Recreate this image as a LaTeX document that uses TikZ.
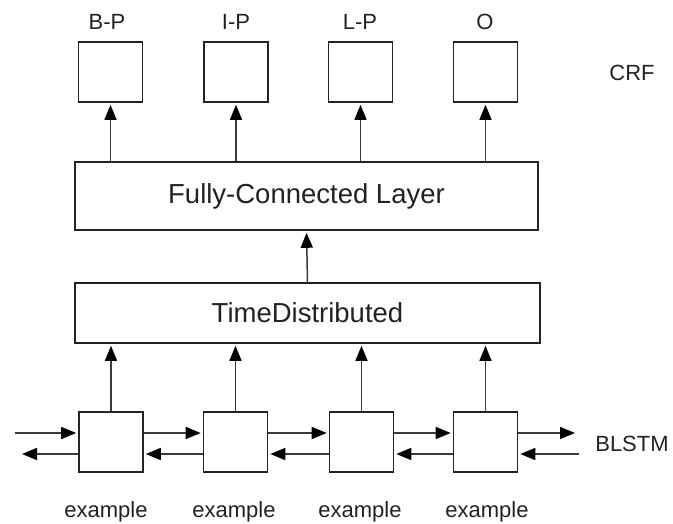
\documentclass[tikz,border=0pt]{standalone}
\usepackage{fontspec}
\setmainfont{Liberation Sans}
\usetikzlibrary{arrows.meta,positioning}
\definecolor{ink}{HTML}{222222}
\definecolor{shaft}{HTML}{3A3A3A}
\tikzset{
  cell/.style={draw=ink, line width=1.6pt, fill=white, inner sep=0pt,
    minimum width=64pt, minimum height=60pt},
  layer/.style={draw=ink, line width=1.6pt, fill=white, inner sep=0pt,
    text=ink, font=\fontsize{27.5}{32}\selectfont},
  lbl/.style={text=ink, inner sep=0pt, font=\fontsize{22}{26}\selectfont},
  arr/.style={draw=shaft, line width=1.5pt,
    -{Triangle[length=15pt,width=12pt,color=black]}, shorten >=2pt},
}
\begin{document}
\begin{tikzpicture}[x=1pt,y=-1pt]
\useasboundingbox (0,0) rectangle (673,524);

% CRF output cells and their tags
\node[cell] (o1) at (110.5,72) {};
\node[cell] (o2) at (236,72) {};
\node[cell] (o3) at (360.5,72) {};
\node[cell] (o4) at (485.5,72) {};
\node[lbl] (t1) at (107,22) {B-P};
\node[lbl] (t2) at (236,22) {I-P};
\node[lbl] (t3) at (360,22) {L-P};
\node[lbl] (t4) at (485,22) {O};
\node[lbl] (crf) at (632,73) {CRF};

% dense and time-distributed layers
\node[layer, minimum width=463pt, minimum height=68pt] (fc) at (306.5,196) {Fully-Connected Layer};
\node[layer, minimum width=465pt, minimum height=60pt] (td) at (307.5,313) {TimeDistributed};

% BLSTM cells and inputs
\node[cell] (c1) at (111,442) {};
\node[cell] (c2) at (235.5,442) {};
\node[cell] (c3) at (361.5,442) {};
\node[cell] (c4) at (485.5,442) {};
\node[lbl] (e1) at (106,512) {example};
\node[lbl] (e2) at (234,512) {example};
\node[lbl] (e3) at (360,512) {example};
\node[lbl] (e4) at (487,512) {example};
\node[lbl] (blstm) at (632,444) {BLSTM};

% free ends of the recurrent connections
\coordinate (inL) at (15,433);
\coordinate (outL) at (20,454);
\coordinate (outR) at (577,433);
\coordinate (inR) at (579,454);

% upward connections
\foreach \i in {1,...,4} {
  \draw[arr] (fc.north -| o\i.south) -- (o\i.south);
  \draw[arr] (c\i.north) -- (td.south -| c\i.north);
}
\draw[arr] (td.north) -- (fc.south);

% forward (upper) and backward (lower) recurrences
\draw[arr] (inL) -- (inL -| c1.west);
\draw[arr] (outL -| c1.west) -- (outL);
\foreach \a/\b in {1/2,2/3,3/4} {
  \draw[arr] ([yshift=9pt]c\a.east) -- ([yshift=9pt]c\b.west);
  \draw[arr] ([yshift=-12pt]c\b.west) -- ([yshift=-12pt]c\a.east);
}
\draw[arr] (outR -| c4.east) -- (outR);
\draw[arr] (inR) -- (inR -| c4.east);
\end{tikzpicture}
\end{document}
